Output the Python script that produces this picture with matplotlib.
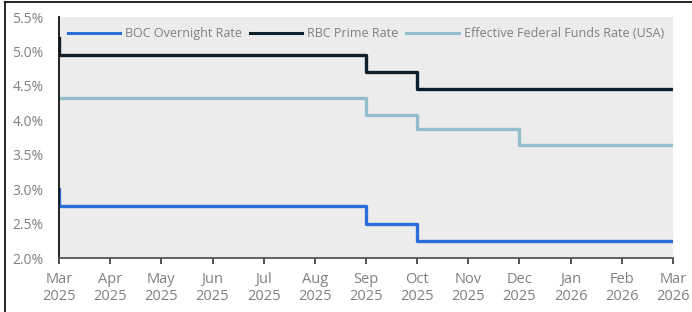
import numpy as np
import pandas as pd
import matplotlib
matplotlib.use("Agg")
import matplotlib.pyplot as plt
from matplotlib.lines import Line2D

plt.rcParams['font.family'] = ['Open Sans', 'DejaVu Sans']

# -----------------------------
# Data (step changes, monthly axis)
# -----------------------------
boc_dates = ["2025-03", "2025-03", "2025-09", "2025-10", "2026-03"]
boc_rates = [3.00, 2.75, 2.50, 2.25, 2.25]

rbc_dates = ["2025-03", "2025-03", "2025-09", "2025-10", "2026-03"]
rbc_rates = [5.20, 4.95, 4.70, 4.45, 4.45]

fed_dates = ["2025-03", "2025-09", "2025-10", "2025-12", "2026-03"]
fed_rates = [4.33, 4.08, 3.87, 3.64, 3.64]

months = pd.period_range("2025-03", "2026-03", freq="M")
y_ticks = [2.0, 2.5, 3.0, 3.5, 4.0, 4.5, 5.0, 5.5]


def month_index(dates):
    # months are evenly spaced on this chart
    return [(pd.Period(d, freq="M") - months[0]).n for d in dates]


# -----------------------------
# Plot
# -----------------------------
fig = plt.figure(figsize=(6.92, 3.12), dpi=100)
ax = fig.add_axes([0.0853, 0.173, 0.8872, 0.7725])
ax.set_facecolor("#ececec")

ax.step(month_index(boc_dates), boc_rates, where="post", color="#2a6ed8", lw=2.4,
        label="BOC Overnight Rate")
ax.step(month_index(rbc_dates), rbc_rates, where="post", color="#0e1e2b", lw=2.4,
        label="RBC Prime Rate")
ax.step(month_index(fed_dates), fed_rates, where="post", color="#94bdcc", lw=2.4,
        label="Effective Federal Funds Rate (USA)")

ax.set_xlim(0, len(months) - 1)
ax.set_ylim(2.0, 5.5)
ax.set_yticks(y_ticks)
ax.set_yticklabels([f"{v:.1f}%" for v in y_ticks])
ax.set_xticks(range(len(months)))
ax.set_xticklabels([m.strftime("%b\n%Y") for m in months])

ax.tick_params(axis="y", length=0, pad=11, labelsize=10, labelcolor="#808080")
ax.tick_params(axis="x", length=4, width=1.2, color="#333333", pad=6,
               labelsize=10.5, labelcolor="#808080")
for s in ["top", "right"]:
    ax.spines[s].set_visible(False)
ax.spines["left"].set_color("#111111")
ax.spines["left"].set_linewidth(1.3)
ax.spines["bottom"].set_color("#555555")
ax.spines["bottom"].set_linewidth(1.3)

leg = ax.legend(loc="upper left", ncol=3, frameon=False, fontsize=9,
                handlelength=4.2, columnspacing=0.6, handletextpad=0.4,
                bbox_to_anchor=(0.0, 0.995), borderaxespad=0.3)
for t in leg.get_texts():
    t.set_color("#808080")
for h in leg.get_lines():
    h.set_linewidth(2.2)

# outer frame
fig.add_artist(Line2D([4.5 / 692, 4.5 / 692], [0, 1 - 1.5 / 312], color="black", lw=1.2,
                      transform=fig.transFigure))
fig.add_artist(Line2D([4.5 / 692, 1], [1 - 1.5 / 312, 1 - 1.5 / 312], color="black", lw=1.2,
                      transform=fig.transFigure))

fig.savefig("out.png", dpi=100)
